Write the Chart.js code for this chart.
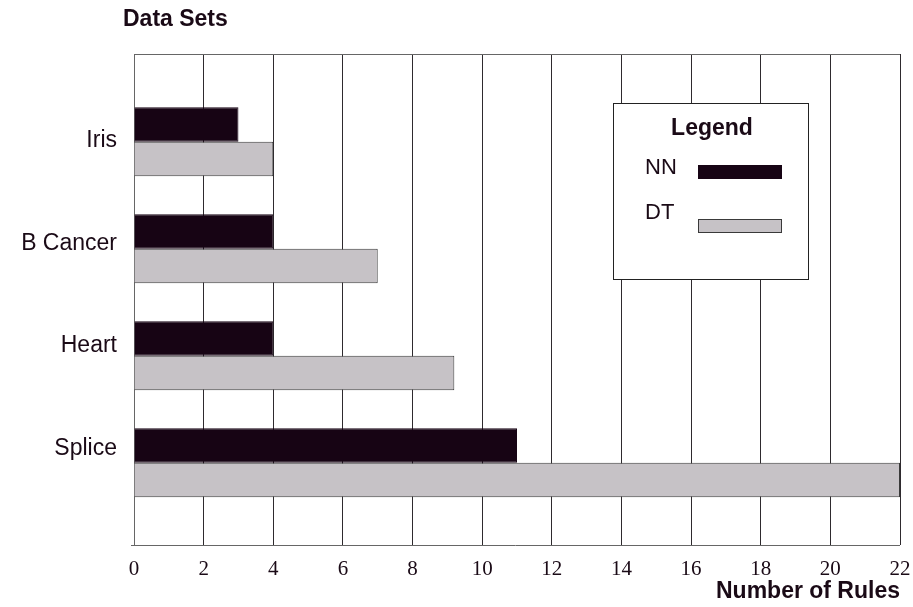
<!DOCTYPE html>
<html>
<head>
<meta charset="utf-8">
<script src="https://cdn.jsdelivr.net/npm/chart.js@4/dist/chart.umd.min.js"></script>
<style>
html,body{margin:0;padding:0;background:#fff;}
#wrap{width:913px;height:607px;}
</style>
</head>
<body>
<div id="wrap"><canvas id="c" width="913" height="607"></canvas></div>
<script>
// ---- data ----
const categories = ['Iris', 'B Cancer', 'Heart', 'Splice'];
const nnRules = [3, 4, 4, 11];
const dtRules = [4, 7, 9.2, 22];
const seriesNames = ['NN', 'DT'];
const xTickValues = [0, 2, 4, 6, 8, 10, 12, 14, 16, 18, 20, 22];
const yAxisTitle = 'Data Sets';
const xAxisTitle = 'Number of Rules';
const legendTitle = 'Legend';

// ---- styles ----
const textColor = '#1a0a16';
const nnColor = '#170414';
const dtColor = '#c6c2c6';
const edgeColor = '#3a3a3a';
const gridColor = '#2e2a2e';
const axisColor = '#666666';
const sansFamily = '"Liberation Sans", Arial, Helvetica, sans-serif';
const serifFamily = '"Liberation Serif", "Times New Roman", serif';

const overlay = {
  id: 'overlay',
  afterDraw(chart) {
    const {ctx, chartArea: a} = chart;
    ctx.save();
    // top frame line
    ctx.strokeStyle = axisColor;
    ctx.lineWidth = 1;
    ctx.beginPath();
    ctx.moveTo(a.left, Math.round(a.top) + 0.5);
    ctx.lineTo(a.right, Math.round(a.top) + 0.5);
    ctx.stroke();
    // bottom axis line slightly extending left
    ctx.beginPath();
    ctx.moveTo(a.left - 3, Math.round(a.bottom) + 0.5);
    ctx.lineTo(a.right, Math.round(a.bottom) + 0.5);
    ctx.stroke();

    // y axis title
    ctx.fillStyle = textColor;
    ctx.font = 'bold 23px ' + sansFamily;
    ctx.textAlign = 'left';
    ctx.textBaseline = 'middle';
    ctx.fillText(yAxisTitle, 123, 20);

    // legend box
    const bx = 613.5, by = 103.5, bw = 195, bh = 176;
    ctx.fillStyle = '#ffffff';
    ctx.fillRect(bx, by, bw, bh);
    ctx.strokeStyle = '#222';
    ctx.lineWidth = 1;
    ctx.strokeRect(bx, by, bw, bh);

    ctx.fillStyle = textColor;
    ctx.font = 'bold 23px ' + sansFamily;
    ctx.textAlign = 'center';
    ctx.fillText(legendTitle, 712, 129);

    const ds = chart.data.datasets;
    const rows = [168, 213];
    const sw = [[165, 13], [219, 13]];
    ds.forEach((d, i) => {
      ctx.fillStyle = textColor;
      ctx.font = '22px ' + sansFamily;
      ctx.textAlign = 'left';
      ctx.fillText(d.label, 645, rows[i]);
      ctx.fillStyle = d.backgroundColor;
      ctx.fillRect(698.5, sw[i][0] + 0.5, 83, sw[i][1]);
      ctx.strokeStyle = d.borderColor;
      ctx.strokeRect(698.5, sw[i][0] + 0.5, 83, sw[i][1]);
    });
    ctx.restore();
  }
};

new Chart(document.getElementById('c'), {
  type: 'bar',
  data: {
    datasets: [
      {
        label: seriesNames[0],
        data: nnRules.map((v, i) => ({x: v, y: i})),
        backgroundColor: nnColor,
        borderColor: nnColor,
        borderWidth: 1
      },
      {
        label: seriesNames[1],
        data: dtRules.map((v, i) => ({x: v, y: i})),
        backgroundColor: dtColor,
        borderColor: edgeColor,
        borderWidth: 1
      }
    ]
  },
  options: {
    responsive: false,
    animation: false,
    indexAxis: 'y',
    categoryPercentage: 0.645,
    barPercentage: 1.0,
    layout: {padding: {top: 54, right: 13, bottom: 0, left: 0}},
    plugins: {legend: {display: false}, tooltip: {enabled: false}, title: {display: false}},
    scales: {
      x: {
        type: 'linear',
        position: 'bottom',
        offset: false,
        min: xTickValues[0],
        max: xTickValues[xTickValues.length - 1],
        afterBuildTicks: s => { s.ticks = xTickValues.map(v => ({value: v})); },
        afterFit: s => { s.height = 62; s.paddingRight = 0; s.paddingLeft = 0; },
        grid: {color: gridColor, lineWidth: 1, drawTicks: false, offset: false},
        border: {display: false},
        ticks: {
          color: textColor,
          padding: 12,
          font: {family: serifFamily, size: 21},
          maxRotation: 0,
          autoSkip: false
        },
        title: {
          display: true,
          text: xAxisTitle,
          align: 'end',
          color: textColor,
          font: {family: sansFamily, size: 23, weight: 'bold'},
          padding: {top: 0, bottom: 2}
        }
      },
      y: {
        type: 'linear',
        display: false,
        reverse: true,
        offset: false,
        min: -0.82,
        max: categories.length - 0.23,
        afterBuildTicks: s => { s.ticks = categories.map((c, i) => ({value: i})); },
        grid: {display: false}
      },
      yLabels: {
        type: 'linear',
        position: 'left',
        reverse: true,
        offset: false,
        min: -0.85,
        max: 3.94,
        afterBuildTicks: s => { s.ticks = categories.map((c, i) => ({value: i})); },
        afterFit: s => { s.width = 134; s.paddingTop = 0; s.paddingBottom = 0; },
        grid: {display: false, drawTicks: false, offset: false},
        border: {display: true, color: axisColor, width: 1},
        ticks: {
          color: textColor,
          padding: 17,
          font: {family: sansFamily, size: 23},
          autoSkip: false,
          callback: v => categories[v]
        }
      }
    }
  },
  plugins: [overlay]
});
</script>
</body>
</html>
